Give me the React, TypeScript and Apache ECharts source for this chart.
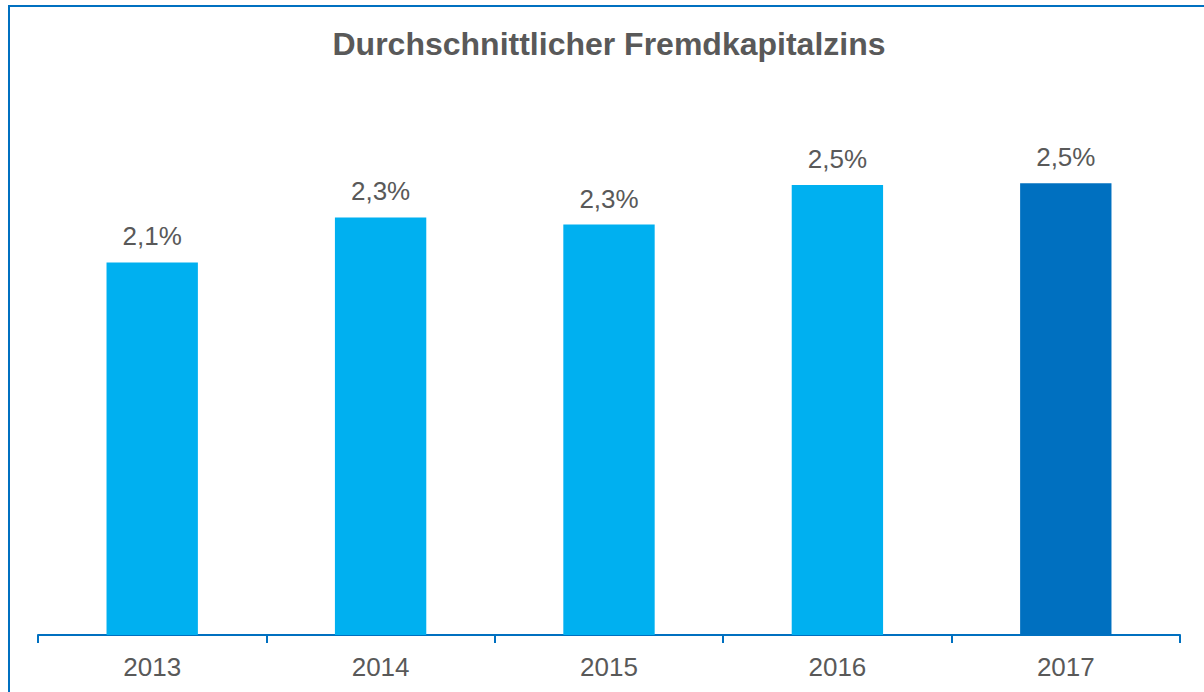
import React, { useEffect, useRef } from "react";
import * as echarts from "echarts";

const titleText = "Durchschnittlicher Fremdkapitalzins";
const years = ["2013", "2014", "2015", "2016", "2017"];
const rates = [2.07, 2.32, 2.28, 2.5, 2.51];
const barColors = ["#00B0F0", "#00B0F0", "#00B0F0", "#00B0F0", "#0070C0"];

export default function App() {
  const ref = useRef<HTMLDivElement>(null);
  useEffect(() => {
    if (!ref.current) return;
    const chart = echarts.init(ref.current, null, { renderer: "svg" });
    chart.setOption({
      animation: false,
      backgroundColor: "#ffffff",
      title: {
        text: titleText,
        left: 609,
        top: 28,
        padding: 0,
        textAlign: "center",
        textStyle: {
          fontFamily: "Liberation Sans, Arial, sans-serif",
          fontSize: 32,
          lineHeight: 32,
          fontWeight: "bold",
          color: "#595959",
        },
      },
      graphic: [
        {
          type: "rect",
          shape: { x: 9, y: 6, width: 1300, height: 1000 },
          style: { fill: "none", stroke: "#0070C0", lineWidth: 2 },
          silent: true,
        },
      ],
      grid: { left: 38, right: 24, top: 95, bottom: 57, containLabel: false },
      xAxis: {
        type: "category",
        data: years,
        axisLine: { lineStyle: { color: "#0070C0", width: 2 } },
        axisTick: { show: true, length: 8, lineStyle: { color: "#0070C0", width: 2 } },
        axisLabel: {
          fontFamily: "Liberation Sans, Arial, sans-serif",
          fontSize: 26,
          color: "#595959",
          margin: 19,
        },
      },
      yAxis: {
        type: "value",
        min: 0,
        max: 3,
        show: false,
        splitLine: { show: false },
      },
      series: [
        {
          type: "bar",
          barWidth: "40%",
          data: rates.map((v, i) => ({ value: v, itemStyle: { color: barColors[i] } })),
          label: {
            show: true,
            position: "top",
            distance: 13,
            fontFamily: "Liberation Sans, Arial, sans-serif",
            fontSize: 26,
            color: "#595959",
            formatter: (p: any) => p.value.toFixed(1).replace(".", ",") + "%",
          },
        },
      ],
    });
    return () => chart.dispose();
  }, []);
  return (
    <div
      ref={ref}
      style={{ position: "fixed", left: 0, top: 0, width: 1204, height: 692 }}
    />
  );
}
